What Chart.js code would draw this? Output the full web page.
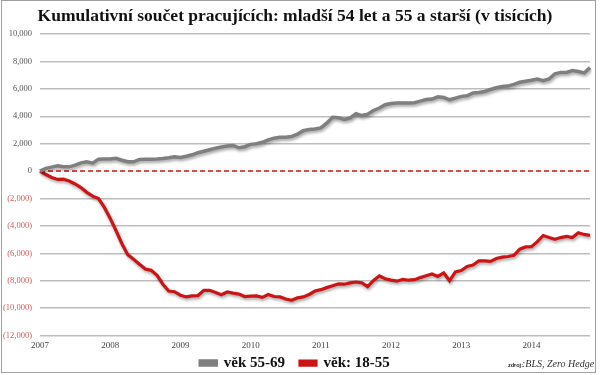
<!DOCTYPE html>
<html>
<head>
<meta charset="utf-8">
<script src="https://cdn.jsdelivr.net/npm/chart.js@4.4.0/dist/chart.umd.min.js"></script>
<style>
  html, body { margin: 0; padding: 0; background: #fff; }
  #wrap { width: 600px; height: 375px; position: relative; }
</style>
</head>
<body>
<div id="wrap"><canvas id="chart"></canvas></div>
<script>
// Data: monthly cumulative change in employment (thousands), Jan 2007 - Nov 2014
const years = ['2007', '2008', '2009', '2010', '2011', '2012', '2013', '2014'];
const months = [];
years.forEach(y => {
    for (let m = 1; m <= 12; m++) months.push(y + '-' + String(m).padStart(2, '0'));
});
months.length = 95;

const age55to69 = [
    0, 200, 290, 380, 320, 310, 440, 600, 680, 580, 870, 880,
    890, 930, 790, 680, 680, 850, 860, 870, 880, 920, 980, 1050,
    1000, 1080, 1190, 1340, 1450, 1560, 1670, 1760, 1830, 1870, 1700, 1780,
    1950, 2000, 2100, 2270, 2400, 2460, 2470, 2520, 2700, 2950, 3030, 3070,
    3150, 3500, 3930, 3890, 3770, 3870, 4180, 4050, 4150, 4420, 4600, 4840,
    4930, 4960, 4960, 4970, 4990, 5100, 5220, 5250, 5420, 5370, 5200, 5320,
    5450, 5490, 5700, 5730, 5810, 5950, 6080, 6180, 6200, 6330, 6480, 6560,
    6630, 6720, 6590, 6720, 7100, 7200, 7200, 7340, 7260, 7160, 7550
];

const age18to55 = [
    0, -250, -470, -610, -590, -720, -940, -1200, -1550, -1830, -2000, -2650,
    -3450, -4350, -5300, -6100, -6430, -6800, -7150, -7240, -7600, -8250, -8750, -8800,
    -9050, -9180, -9100, -9080, -8700, -8700, -8850, -9020, -8820, -8900, -8970, -9150,
    -9120, -9100, -9210, -9000, -9150, -9180, -9330, -9420, -9250, -9180, -9000, -8750,
    -8650, -8500, -8360, -8230, -8250, -8150, -8090, -8150, -8430, -7980, -7650, -7850,
    -7950, -8030, -7900, -7960, -7920, -7770, -7640, -7500, -7680, -7430, -7990, -7350,
    -7250, -6960, -6850, -6550, -6550, -6590, -6380, -6280, -6230, -6140, -5700, -5530,
    -5520, -5150, -4700, -4850, -4970, -4850, -4760, -4850, -4500, -4620, -4690
];

const seriesNames = ['věk 55-69', 'věk: 18-55'];
const yTicks = [10000, 8000, 6000, 4000, 2000, 0, -2000, -4000, -6000, -8000, -10000, -12000];

const titleText = 'Kumulativní součet pracujících: mladší 54 let a 55 a starší (v tisících)';
const sourceText = ':BLS, Zero Hedge';

function fmtTick(v) {
    const s = Math.abs(v).toLocaleString('en-US');
    return v < 0 ? '(' + s + ')' : s;
}

// soft drop shadow under the data lines
const lineShadow = {
    id: 'lineShadow',
    beforeDatasetDraw(chart) {
        const ctx = chart.ctx;
        ctx.save();
        ctx.shadowColor = 'rgba(0,0,0,0.35)';
        ctx.shadowBlur = 3;
        ctx.shadowOffsetX = 1;
        ctx.shadowOffsetY = 2;
    },
    afterDatasetDraw(chart) {
        chart.ctx.restore();
    }
};

// red dashed zero line, frame and source note
const extras = {
    id: 'extras',
    beforeDatasetsDraw(chart) {
        const { ctx, chartArea, scales } = chart;
        const y0 = scales.y.getPixelForValue(0);
        ctx.save();
        ctx.strokeStyle = '#cc1111';
        ctx.lineWidth = 1.5;
        ctx.setLineDash([5, 3]);
        ctx.beginPath();
        ctx.moveTo(chartArea.left, y0);
        ctx.lineTo(chartArea.right, y0);
        ctx.stroke();
        ctx.restore();
    },
    afterDraw(chart) {
        const ctx = chart.ctx;
        ctx.save();
        ctx.strokeStyle = '#a0a0a0';
        ctx.lineWidth = 1;
        ctx.strokeRect(1.5, 0.5, 594, 372);
        ctx.fillStyle = '#222';
        ctx.textBaseline = 'middle';
        ctx.font = 'bold 5.5px "Liberation Sans"';
        ctx.fillText('zdroj:', 508, 365);
        ctx.fillStyle = '#333';
        ctx.font = 'italic 10px "Liberation Serif"';
        ctx.fillText(sourceText, 522, 364);
        ctx.restore();
    }
};

new Chart(document.getElementById('chart'), {
    type: 'line',
    data: {
        labels: months,
        datasets: [
            {
                label: seriesNames[0],
                data: age55to69,
                borderColor: '#7f7f7f',
                backgroundColor: '#7f7f7f',
                borderWidth: 3.5,
                pointRadius: 0,
                tension: 0
            },
            {
                label: seriesNames[1],
                data: age18to55,
                borderColor: '#cc1414',
                backgroundColor: '#cc1414',
                borderWidth: 3.2,
                pointRadius: 0,
                tension: 0
            }
        ]
    },
    options: {
        responsive: true,
        maintainAspectRatio: false,
        animation: false,
        layout: { padding: { left: 0, right: 10, top: 0, bottom: -5.6 } },
        plugins: {
            title: {
                display: true,
                text: titleText,
                color: '#111',
                font: { family: 'Liberation Serif', size: 17.5, weight: 'bold' },
                padding: { top: 6, bottom: 7 }
            },
            legend: {
                position: 'bottom',
                labels: {
                    boxWidth: 16,
                    boxHeight: 4,
                    padding: 0,
                    color: '#111',
                    font: { family: 'Liberation Serif', size: 15, weight: 'bold' },
                    // keep a gap between the two entries
                    generateLabels: chart => Chart.defaults.plugins.legend.labels.generateLabels(chart)
                        .map((l, i) => i === 0 ? Object.assign(l, { text: l.text + '\u2003' }) : l)
                }
            },
            tooltip: { enabled: false }
        },
        scales: {
            x: {
                type: 'category',
                grid: { display: false, drawTicks: false },
                border: { display: false },
                ticks: {
                    autoSkip: false,
                    maxRotation: 0,
                    padding: 4.6,
                    color: '#444',
                    font: { family: 'Liberation Serif', size: 9 },
                    callback: function (v, i) {
                        return i % 12 === 0 ? years[i / 12] : null;
                    }
                }
            },
            y: {
                min: -12000,
                max: 10000,
                afterBuildTicks: scale => {
                    scale.ticks = yTicks.map(v => ({ value: v }));
                },
                afterFit: scale => { scale.width = 40; },
                grid: {
                    drawTicks: false,
                    color: c => c.tick && c.tick.value === 0 ? 'rgba(0,0,0,0)' : '#bdbdbd',
                    lineWidth: 1.5
                },
                border: { display: false },
                ticks: {
                    padding: 8,
                    color: c => c.tick.value < 0 ? '#d05a5a' : '#555',
                    font: { family: 'Liberation Serif', size: 8.5 },
                    callback: v => fmtTick(v)
                }
            }
        }
    },
    plugins: [lineShadow, extras]
});
</script>
</body>
</html>
